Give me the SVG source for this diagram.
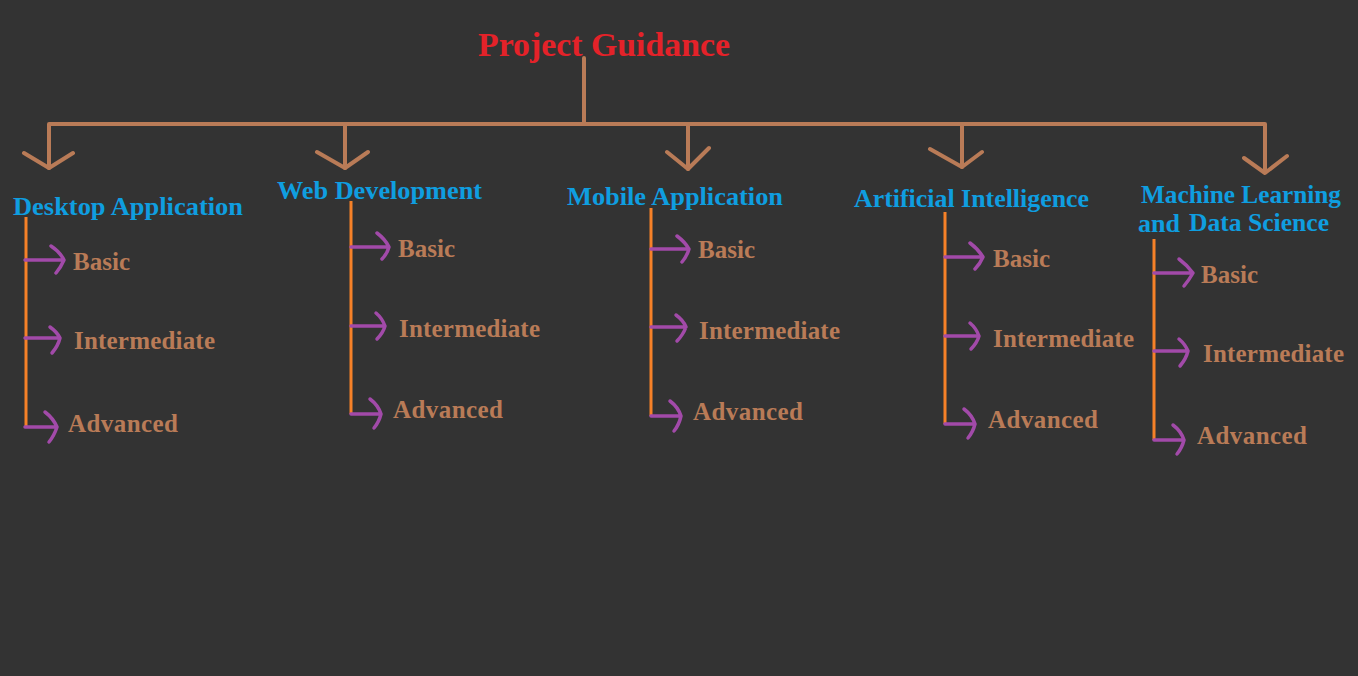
<svg xmlns="http://www.w3.org/2000/svg" width="1358" height="676" viewBox="0 0 1358 676">
<style>
text{font-family:"Liberation Serif","DejaVu Serif",serif;font-weight:bold}
.t{fill:#e42229;font-size:33px}
.c{fill:#0f9ee0;font-size:25px}
.s{fill:#b97b57;font-size:25px}
.main{stroke:#b97b57;stroke-width:4;fill:none;stroke-linecap:round;stroke-linejoin:round}
.v{stroke:#f68128;stroke-width:3;fill:none}
.b{stroke:#a24aa9;stroke-width:3.5;fill:none;stroke-linecap:round;stroke-linejoin:round}
</style>
<rect width="1358" height="676" fill="#333333"/>
<g id="connectors">
<path class="main" d="M584 58V122M49 168V124H1265V172"/>
<path class="main" d="M345 124V168M688 124V169M962 124V167"/>
<path class="main" d="M24 153L49 168L73 153M317 152L345 168L368 152M667 152L688 169L709 148M930 149L962 167L982 152M1244 158L1265 173L1287 156"/>
<path class="v" d="M26 217V427M351 201V414M651 208V416M945 212V424M1154 239V440"/>
<g class="b">
<path d="M25 260H64M51 246Q60 252 64 260Q61 267 56 273"/>
<path d="M25 338H60M50 327Q57 332 60 338Q58 346 52 353"/>
<path d="M25 427H57M45 412Q53 418 57 427Q54 436 49 442"/>
<path d="M351 247H389M377 233Q385 239 389 247Q387 254 382 259"/>
<path d="M351 326H385M376 313Q382 318 385 326Q383 333 377 339"/>
<path d="M351 414H381M370 399Q378 405 381 414Q379 422 374 428"/>
<path d="M651 249H689M677 236Q685 242 689 249Q687 256 682 262"/>
<path d="M651 327H686M676 315Q683 320 686 327Q683 335 677 341"/>
<path d="M651 416H681M670 401Q678 407 681 416Q679 425 674 431"/>
<path d="M945 257H983M970 243Q978 249 983 257Q980 264 975 269"/>
<path d="M945 336H979M970 323Q976 328 979 336Q977 343 971 349"/>
<path d="M945 424H975M964 409Q972 415 975 424Q973 432 968 438"/>
<path d="M1154 273H1193M1179 259Q1187 265 1193 273Q1189 280 1184 286"/>
<path d="M1154 351H1188M1179 339Q1185 344 1188 351Q1186 359 1180 366"/>
<path d="M1154 440H1184M1173 425Q1181 431 1184 440Q1182 448 1177 454"/>
</g>
</g>
<g id="title"><text class="t" x="478" y="56" textLength="252" lengthAdjust="spacingAndGlyphs">Project Guidance</text></g>
<g id="desktop">
<text class="c" x="13" y="215" textLength="230" lengthAdjust="spacingAndGlyphs">Desktop Application</text>
<text class="s" x="73" y="270" textLength="57">Basic</text>
<text class="s" x="74" y="349" textLength="141">Intermediate</text>
<text class="s" x="68" y="432" textLength="110">Advanced</text>
</g>
<g id="web">
<text class="c" x="277" y="199" textLength="205" lengthAdjust="spacingAndGlyphs">Web Development</text>
<text class="s" x="398" y="257" textLength="57">Basic</text>
<text class="s" x="399" y="337" textLength="141">Intermediate</text>
<text class="s" x="393" y="418" textLength="110">Advanced</text>
</g>
<g id="mobile">
<text class="c" x="567" y="205" textLength="216" lengthAdjust="spacingAndGlyphs">Mobile Application</text>
<text class="s" x="698" y="258" textLength="57">Basic</text>
<text class="s" x="699" y="339" textLength="141">Intermediate</text>
<text class="s" x="693" y="420" textLength="110">Advanced</text>
</g>
<g id="ai">
<text class="c" x="854" y="207" textLength="235" lengthAdjust="spacingAndGlyphs">Artificial Intelligence</text>
<text class="s" x="993" y="267" textLength="57">Basic</text>
<text class="s" x="993" y="347" textLength="141">Intermediate</text>
<text class="s" x="988" y="428" textLength="110">Advanced</text>
</g>
<g id="ml">
<text class="c" x="1141" y="203" textLength="200" lengthAdjust="spacingAndGlyphs">Machine Learning</text>
<text class="c" x="1138" y="232" textLength="42" lengthAdjust="spacingAndGlyphs">and</text>
<text class="c" x="1189" y="231" textLength="140" lengthAdjust="spacingAndGlyphs">Data Science</text>
<text class="s" x="1201" y="283" textLength="57">Basic</text>
<text class="s" x="1203" y="362" textLength="141">Intermediate</text>
<text class="s" x="1197" y="444" textLength="110">Advanced</text>
</g>
</svg>
